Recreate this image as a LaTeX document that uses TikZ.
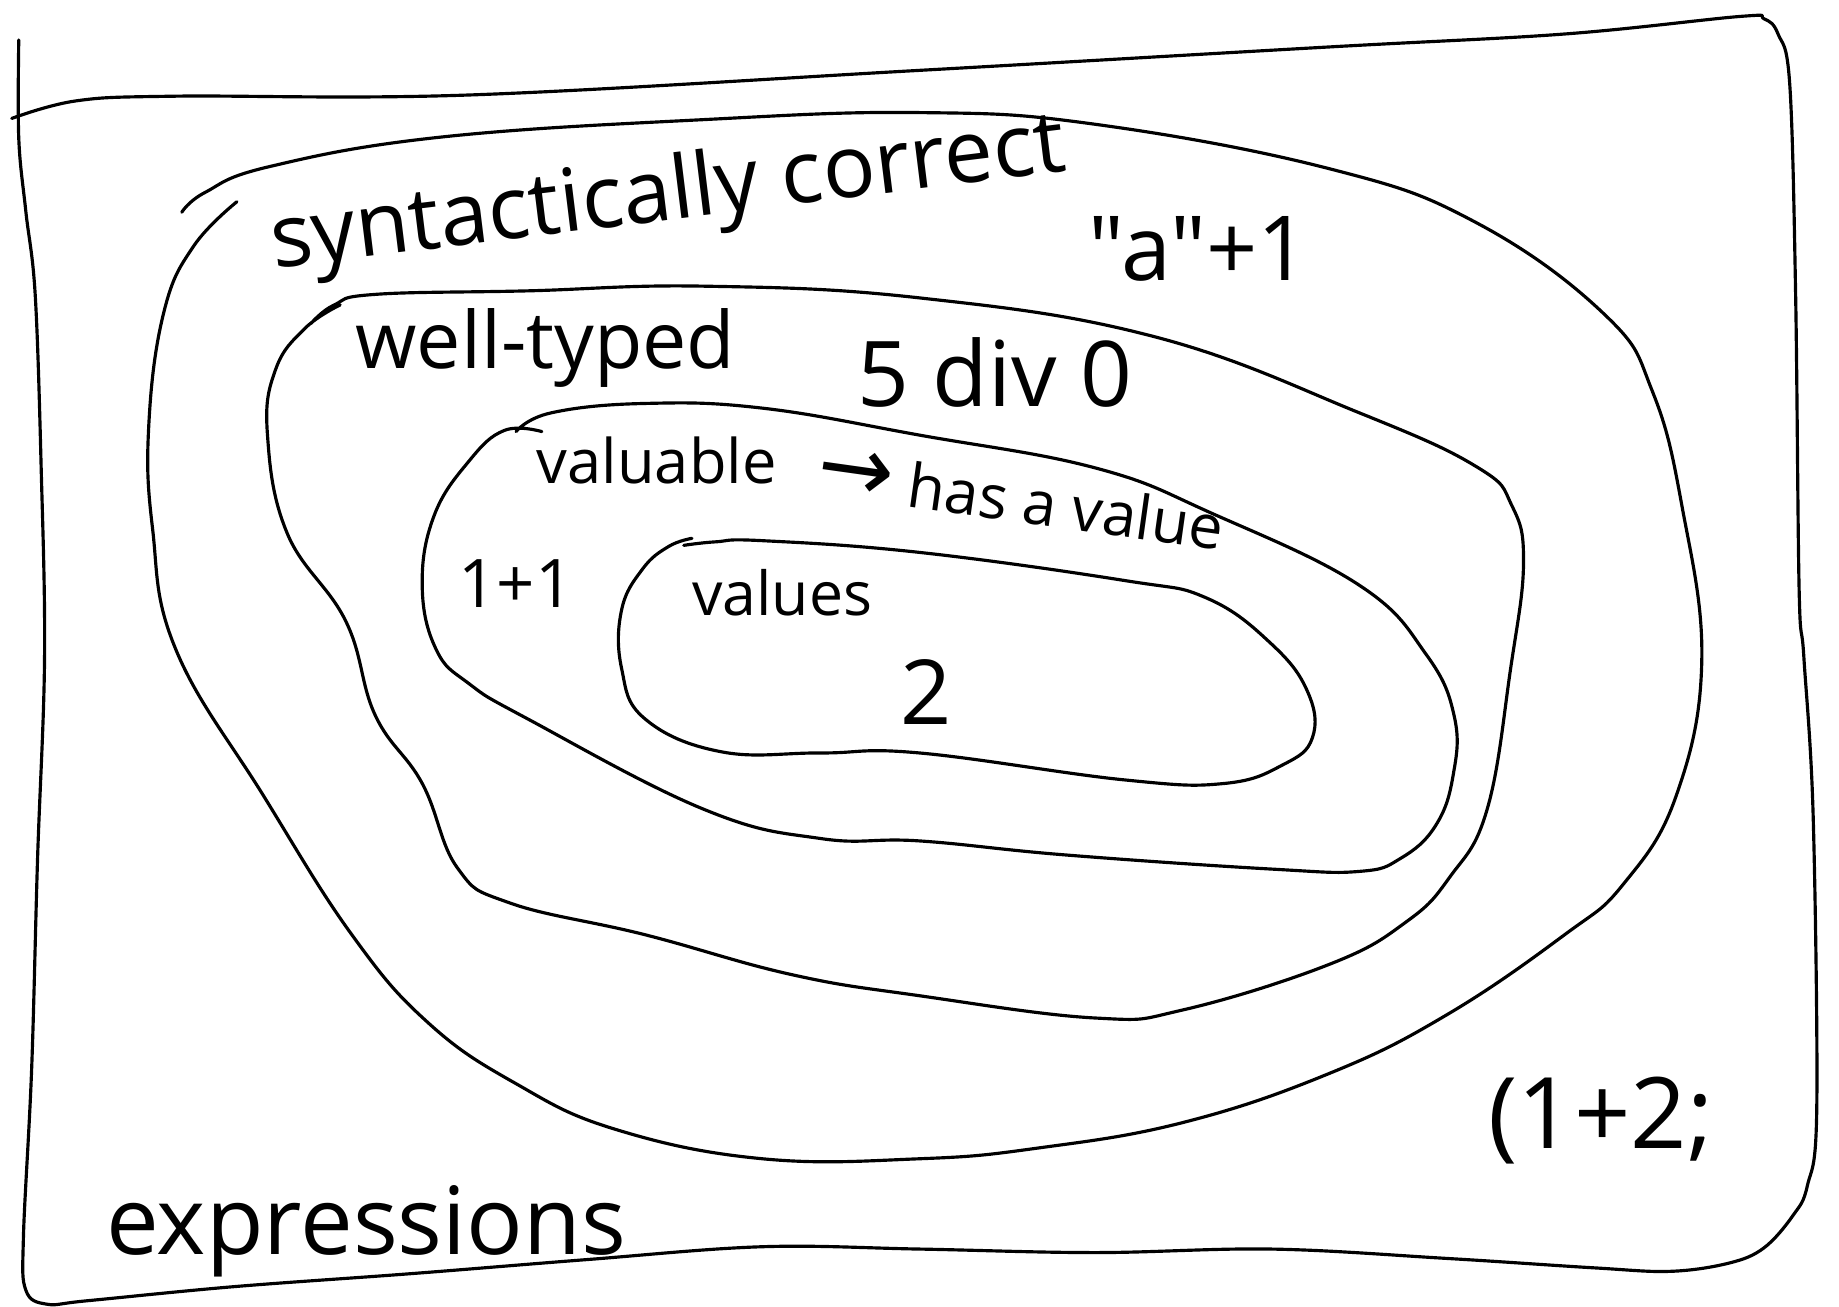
\documentclass[tikz,border=0pt]{standalone}
\usepackage{fontspec}
\setmainfont{Open Sans}[Ligatures=TeXOff]
\newfontfamily\arrowfont{DejaVu Sans}
\usepackage{graphicx}
\newcommand\hwtext[2]{\resizebox{#1}{!}{#2}}
\begin{document}
\begin{tikzpicture}[x=0.011728cm,y=-0.011728cm,
  stroke/.style={line width=0.9pt,line cap=round,line join=round},
  lbl/.style={inner sep=0pt,font=\fontsize{20}{24}\selectfont}]
\useasboundingbox (0,0) rectangle (1568,1114);
% outer frame: expressions
\draw[stroke] plot[smooth,tension=0.6] coordinates {(16,34) (16,118) (22,180) (30,251) (35,395) (38,560) (32,733) (27,911) (20,1054) (22,1100) (40,1112) (75,1109) (200,1097) (350,1086) (500,1074) (650,1063) (784,1065) (934,1068) (1084,1065) (1234,1073) (1359,1081) (1424,1084) (1474,1077) (1504,1064) (1529,1036) (1541,1011) (1549,947) (1546,697) (1538,560) (1534,503) (1531,251) (1526,72) (1516,29) (1504,16) (1484,14) (1334,29) (1134,40) (784,60) (400,81) (150,82) (65,86) (10,101)};
% syntactically correct
\draw[stroke] plot[smooth,tension=0.7] coordinates {(155,181) (175,164) (230,142) (375,117) (600,102) (784,96) (934,106) (1134,144) (1259,190) (1369,269) (1409,334) (1434,431) (1451,563) (1429,679) (1384,754) (1334,797) (1234,865) (1134,915) (1009,957) (884,979) (784,988) (650,988) (525,963) (440,924) (365,872) (300,797) (225,679) (150,554) (130,450) (127,360) (140,265) (165,210) (202,172)};
% well-typed
\draw[stroke] plot[smooth,tension=0.7] coordinates {(265,276) (285,260) (320,251) (450,248) (600,244) (784,254) (984,287) (1159,352) (1259,398) (1289,431) (1299,480) (1288,570) (1268,690) (1236,748) (1199,786) (1134,822) (1009,861) (934,868) (784,849) (675,831) (550,797) (435,770) (390,740) (360,668) (320,610) (295,530) (245,455) (228,370) (235,315) (260,280) (290,260)};
% valuable
\draw[stroke] plot[smooth,tension=0.7] coordinates {(440,368) (470,352) (550,344) (650,348) (784,371) (934,399) (1034,438) (1159,499) (1216,558) (1240,611) (1239,661) (1224,704) (1194,732) (1159,743) (1084,741) (909,729) (784,717) (700,715) (600,690) (450,613) (400,583) (372,554) (360,500) (370,440) (400,393) (430,367) (462,368)};
% values
\draw[stroke] plot[smooth,tension=0.7] coordinates {(583,465) (610,462) (650,461) (784,471) (959,495) (1029,510) (1084,549) (1115,590) (1119,629) (1094,652) (1044,668) (959,665) (784,642) (700,642) (615,641) (550,613) (530,570) (530,520) (548,485) (570,466) (590,459)};
% labels
\node[lbl,rotate=7] (synt) at (570,168) {\hwtext{8.0cm}{syntactically correct}};
\node[lbl] (str) at (1022,212) {\hwtext{2.2cm}{"a"+1}};
\node[lbl] (welltyped) at (465,297) {\hwtext{3.8cm}{well-typed}};
\node[lbl] (div) at (848,318) {\hwtext{2.75cm}{5 div 0}};
\node[lbl] (valuable) at (560,393) {\hwtext{2.4cm}{valuable}};
\node[lbl,rotate=-8] (hasvalue) at (870,425) {\hwtext{4.1cm}{\scalebox{1.5}{\arrowfont →} has a value}};
\node[lbl] (oneplus) at (440,498) {\hwtext{1.15cm}{1+1}};
\node[lbl] (values) at (667,505) {\hwtext{1.8cm}{values}};
\node[lbl] (two) at (790,590) {\resizebox{!}{0.65cm}{2}};
\node[lbl] (expr) at (312,1050) {\hwtext{5.2cm}{expressions}};
\node[lbl] (bad) at (1365,955) {\hwtext{2.25cm}{(1+2;}};
\end{tikzpicture}
\end{document}
